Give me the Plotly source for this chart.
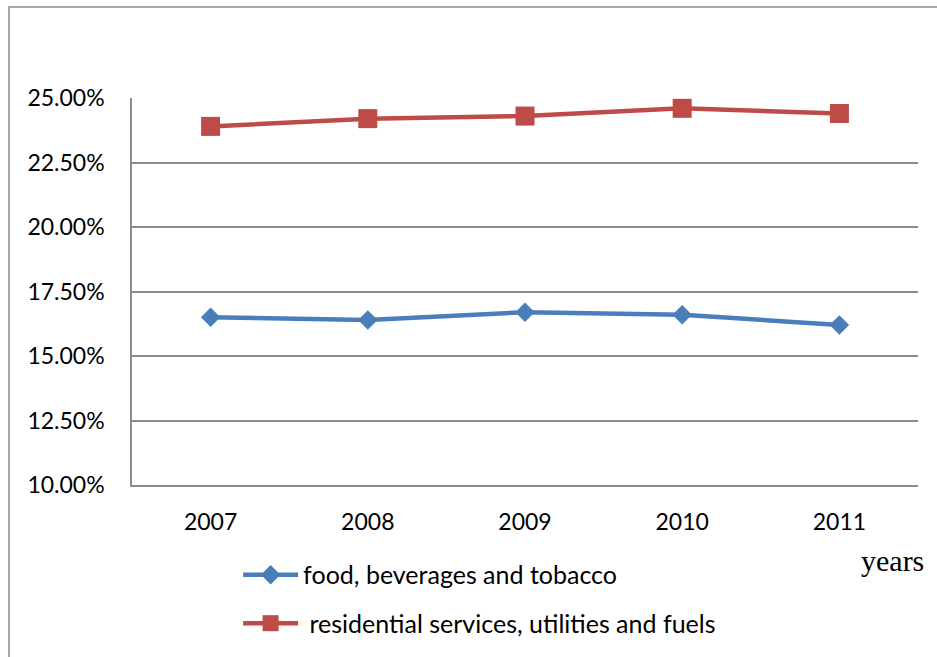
import plotly.graph_objects as go

# Household expenditure shares by year (percent)
years = ["2007", "2008", "2009", "2010", "2011"]
food_share = [16.5, 16.4, 16.7, 16.6, 16.2]
housing_share = [23.9, 24.2, 24.3, 24.6, 24.4]
y_ticks = [10.0, 12.5, 15.0, 17.5, 20.0, 22.5, 25.0]
y_tick_text = [f"{v:.2f}%" for v in y_ticks]

series_names = ["food, beverages and tobacco",
                "\u00a0residential services, utilities and fuels"]

BLUE = "#4A7EBB"
RED = "#BE4B48"
GRID = "#8C8C8C"
FONT = "Lato"

fig = go.Figure()
fig.add_trace(go.Scatter(
    x=years, y=food_share, name=series_names[0], mode="lines+markers",
    line=dict(color=BLUE, width=4.5),
    marker=dict(symbol="diamond", size=15, color=BLUE),
    legendgroup="a",
))
fig.add_trace(go.Scatter(
    x=years, y=housing_share, name=series_names[1], mode="lines+markers",
    line=dict(color=RED, width=4.5),
    marker=dict(symbol="square", size=19, color=RED),
    legendgroup="b",
))

fig.update_layout(
    width=937, height=657,
    margin=dict(l=132, r=19, t=98, b=172, autoexpand=False),
    paper_bgcolor="white", plot_bgcolor="white",
    font=dict(family=FONT, size=23, color="black"),
    showlegend=True,
    legend=dict(
        x=0.135, y=-0.173, xanchor="left", yanchor="top",
        orientation="v", traceorder="grouped", tracegroupgap=13,
        itemwidth=55, font=dict(family=FONT, size=25),
        bgcolor="rgba(0,0,0,0)",
    ),
    xaxis=dict(
        type="category", range=[-0.5, len(years) - 0.5],
        showgrid=False, ticks="",
        showline=True, linecolor=GRID, linewidth=1.5,
        ticklabelstandoff=16, tickfont=dict(family=FONT, size=23),
    ),
    yaxis=dict(
        range=[10, 25], tickvals=y_ticks, ticktext=y_tick_text,
        showgrid=True, gridcolor=GRID, gridwidth=1.5, zeroline=False,
        showline=True, linecolor=GRID, linewidth=1.5, ticks="",
        ticklabelstandoff=21, tickfont=dict(family=FONT, size=23),
    ),
    shapes=[dict(
        type="rect", xref="paper", yref="paper",
        x0=-0.1565, x1=1.2, y0=-0.6, y1=1.235,
        line=dict(color=GRID, width=1.5), layer="below",
    )],
    annotations=[dict(
        text="years", xref="paper", yref="paper", x=0.968, y=-0.195,
        xanchor="center", yanchor="middle", showarrow=False,
        font=dict(family="Liberation Serif", size=30, color="black"),
    )],
)

fig.write_html("out.html")
